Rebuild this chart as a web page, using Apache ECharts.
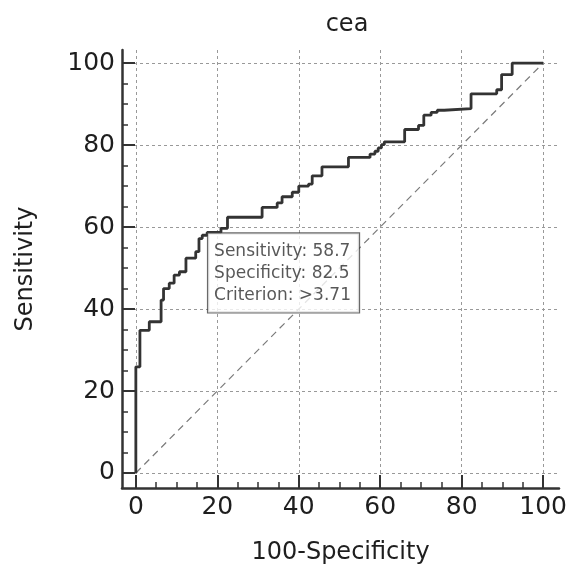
<!DOCTYPE html>
<html>
<head>
<meta charset="utf-8">
<script src="https://cdn.jsdelivr.net/npm/echarts@6/dist/echarts.min.js"></script>
<style>
  html, body { margin: 0; padding: 0; background: #fff; }
  #chart { width: 570px; height: 571px; }
</style>
</head>
<body>
<div id="chart"></div>
<script>
// ROC curve for cea: 100-Specificity (x) vs Sensitivity (y), step corners
const rocFpr = [0, 0, 1.0, 3.3, 6.2, 6.8, 8.2, 9.4, 10.7, 12.3, 14.7, 15.5, 16.3, 17.5,
    20.9, 22.5, 31.0, 34.7, 35.9, 38.4, 40.0, 42.4, 43.3, 45.7, 52.2, 57.5, 58.7, 59.5,
    60.3, 61.0, 66.0, 69.4, 70.7, 72.5, 74.0, 75.7, 82.3, 88.6, 89.8, 92.4, 100];
const rocSens = [0, 25.9, 34.8, 36.9, 42.2, 45.0, 46.3, 48.3, 49.1, 52.4, 54.0, 57.2, 58.0, 58.7,
    59.7, 62.4, 64.8, 65.9, 67.4, 68.5, 70.0, 70.5, 72.5, 74.7, 77.0, 77.8, 78.5, 79.3,
    80.1, 80.8, 83.8, 84.8, 87.3, 88.0, 88.5, 88.9, 92.5, 93.5, 97.2, 100, 100];
const diagonal = [[0, 0], [100, 100]];
const majorTicks = [0, 20, 40, 60, 80, 100];
const minorTicks = [5, 10, 15, 25, 30, 35, 45, 50, 55, 65, 70, 75, 85, 90, 95];
const criterionPoint = [17.5, 58.7];
const criterionText = ['Sensitivity: 58.7', 'Specificity: 82.5', 'Criterion: >3.71'];

const FONT = 'DejaVu Sans';
const INK = '#1e1e1e';

function majorAxis(name, nameGap, extra) {
    return Object.assign({
        type: 'value',
        name: name,
        nameLocation: 'middle',
        nameGap: nameGap,
        nameTextStyle: { fontFamily: FONT, fontSize: 24, color: INK },
        axisLine: { show: true, onZero: false, lineStyle: { color: '#333', width: 2.5 } },
        axisTick: { show: true, inside: true, length: 13, customValues: majorTicks,
            lineStyle: { color: '#333', width: 2 } },
        axisLabel: { customValues: majorTicks, fontFamily: FONT, fontSize: 25, color: INK, margin: 7 },
        splitLine: { show: true, lineStyle: { color: '#999', width: 1, type: [3, 3] } }
    }, extra);
}

function minorAxis(extra) {
    return Object.assign({
        type: 'value',
        axisLine: { show: false, onZero: false },
        axisTick: { show: true, inside: true, length: 6, customValues: minorTicks,
            lineStyle: { color: '#333', width: 1.5 } },
        axisLabel: { show: false },
        splitLine: { show: false }
    }, extra);
}

const chart = echarts.init(document.getElementById('chart'));
chart.setOption({
    animation: false,
    title: {
        text: 'cea',
        left: 342,
        textAlign: 'center',
        top: 8,
        textStyle: { fontFamily: FONT, fontSize: 24, fontWeight: 'normal', color: INK }
    },
    grid: { left: 122, right: 8, top: 50, bottom: 83, containLabel: false },
    xAxis: [
        majorAxis('100-Specificity', 53, { min: -3.4, max: 103.9, position: 'bottom' }),
        minorAxis({ min: -3.4, max: 103.9, position: 'bottom' })
    ],
    yAxis: [
        majorAxis('Sensitivity', 84, { min: -3.66, max: 103.2, position: 'left' }),
        minorAxis({ min: -3.66, max: 103.2, position: 'left' })
    ],
    series: [
        {
            type: 'line',
            data: diagonal,
            symbol: 'none',
            silent: true,
            lineStyle: { color: '#7a7a7a', width: 1.2, type: [7, 5] },
            z: 2
        },
        {
            type: 'line',
            data: rocFpr.map((x, i) => [x, rocSens[i]]),
            step: 'end',
            symbol: 'none',
            lineStyle: { color: '#333', width: 2.8 },
            z: 3
        },
        {
            type: 'scatter',
            data: [criterionPoint],
            symbolSize: 0,
            z: 5,
            label: {
                show: true,
                position: [1, 1],
                align: 'left',
                verticalAlign: 'top',
                formatter: criterionText.join('\n'),
                fontFamily: FONT,
                fontSize: 17,
                lineHeight: 22,
                color: '#2e2e2e',
                backgroundColor: '#fff',
                borderColor: '#444',
                borderWidth: 1.2,
                padding: [7, 8, 6, 6]
            }
        }
    ]
});
</script>
</body>
</html>
